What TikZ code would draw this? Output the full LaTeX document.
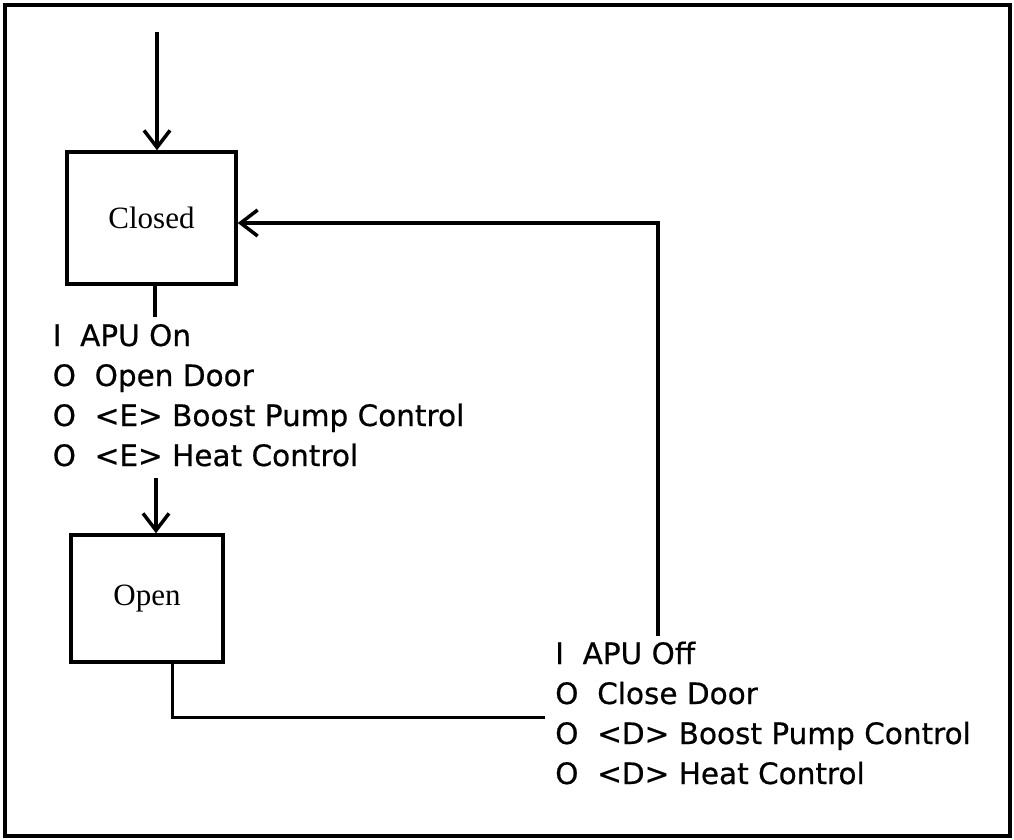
\documentclass[tikz,border=0pt]{standalone}
\usepackage{fontspec}
\setmainfont{Liberation Serif}
\newfontfamily\lblfont[FakeBold=0.6]{DejaVu Sans}
\usetikzlibrary{arrows.meta}
\begin{document}
\begin{tikzpicture}[x=1pt,y=-1pt,
  line width=3.5pt,
  statebox/.style={draw, line width=3.5pt, inner sep=0pt, font=\fontsize{31}{31}\selectfont},
  arr/.style={-{Straight Barb[length=17pt,width=26pt,line width=3.5pt]}},
  lbl/.style={anchor=base west, inner sep=0pt, font=\lblfont\fontsize{29.5}{30}\selectfont},
  thin line/.style={line width=3pt}
  ]
\useasboundingbox (0,0) rectangle (1014,840);
% frame
\draw (5,5) rectangle (1010,836);

% states
\node[statebox, minimum width=169pt, minimum height=132pt] (closed) at (151.5,218) {Closed};
\node[statebox, minimum width=152pt, minimum height=127pt] (open) at (147,598.5) {Open};

% transition labels
\node[lbl] (on1) at (51,346) {I~~APU On};
\node[lbl] (on2) at (51,386) {O~~Open Door};
\node[lbl] (on3) at (51,426) {O~~<E> Boost Pump Control};
\node[lbl] (on4) at (51,466) {O~~<E> Heat Control};

\node[lbl] (off1) at (553.5,664) {I~~APU Off};
\node[lbl] (off2) at (553.5,704) {O~~Close Door};
\node[lbl] (off3) at (553.5,744) {O~~<D> Boost Pump Control};
\node[lbl] (off4) at (553.5,784) {O~~<D> Heat Control};

% connectors
\coordinate (entry) at (157,32);
\draw[arr] (entry) -- (entry |- closed.north);

\coordinate (onstub) at (155,317);
\draw[line width=4pt] (onstub |- closed.south) -- (onstub);

\coordinate (ontail) at (156,478);
\draw[arr] (ontail) -- (ontail |- open.north);

\coordinate (openstub) at (172,700);
\coordinate (offjoin) at (545,717);
\draw[thin line] (openstub |- open.south) |- (offjoin);

\coordinate (offtop) at (658,636);
\coordinate (bend) at (658,223);
\draw[arr] (offtop) -- (bend) -- (bend -| closed.east);
\end{tikzpicture}
\end{document}
